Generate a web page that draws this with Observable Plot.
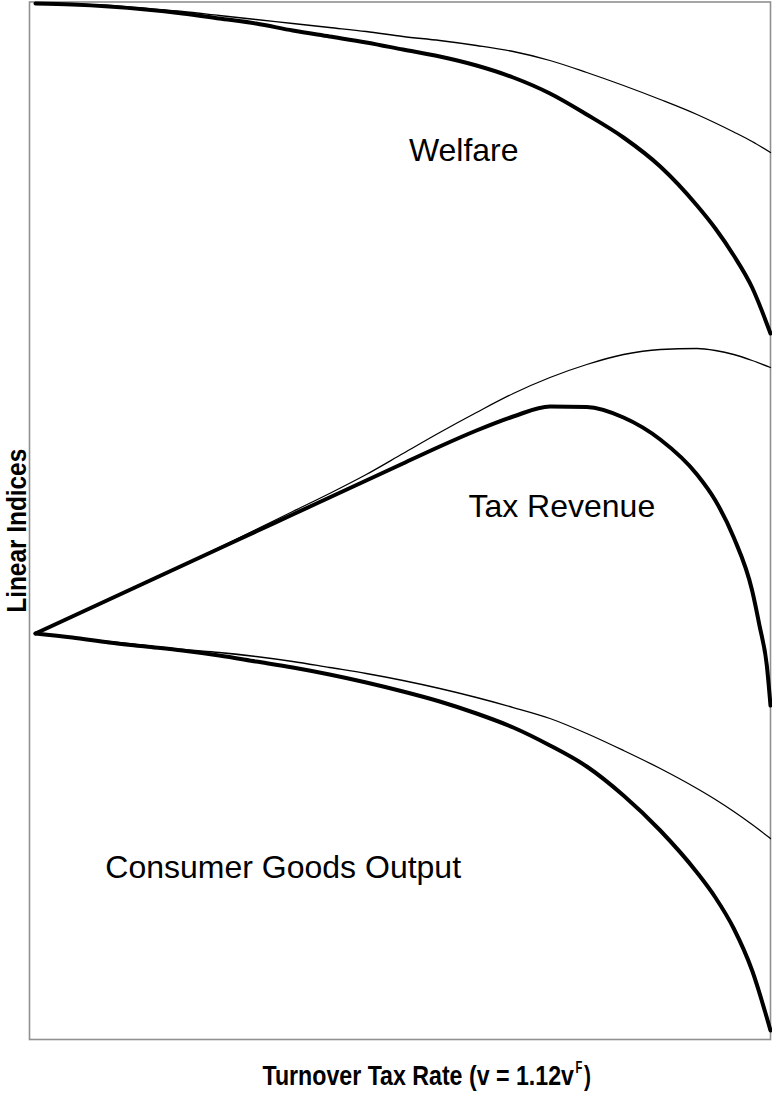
<!DOCTYPE html>
<html>
<head>
<meta charset="utf-8">
<script src="https://cdn.jsdelivr.net/npm/d3@7"></script>
<script src="https://cdn.jsdelivr.net/npm/@observablehq/plot@0.6"></script>
<style>
  html, body { margin: 0; padding: 0; background: #fff; }
  #chart { width: 772px; height: 1093px; }
</style>
</head>
<body>
<div id="chart"></div>
<script>
// Turnover tax rate (normalised 0..1, no ticks shown on the original)
const taxRate = [0, 0.05, 0.1, 0.15, 0.2, 0.25, 0.3, 0.35, 0.4, 0.45, 0.5, 0.55, 0.6, 0.65, 0.7, 0.75, 0.8, 0.85, 0.9, 0.925, 0.95, 0.975, 1];
const taxRateRevenue = [0, 0.05, 0.1, 0.15, 0.2, 0.25, 0.3, 0.35, 0.4, 0.45, 0.5, 0.55, 0.6, 0.65, 0.7, 0.75, 0.8, 0.85, 0.9, 0.925, 0.95, 0.975, 0.985, 0.995, 1];

// Linear indices (arbitrary units) – thin curves
const welfareThin  = [103.6, 103.55, 103.4, 103.1, 102.8, 102.4, 102.0, 101.6, 101.2, 100.8, 100.3, 99.9, 99.4, 98.8, 97.9, 96.7, 95.4, 94.0, 92.5, 91.65, 90.75, 89.8, 88.7];
const revenueThin  = [40.6, 42.3, 44.0, 45.7, 47.4, 49.2, 51.0, 52.8, 54.6, 56.5, 58.6, 60.7, 62.7, 64.6, 66.2, 67.5, 68.5, 69.0, 69.1, 68.9, 68.5, 67.9, 67.2];
const outputThin   = [40.6, 40.2, 39.8, 39.4, 39.0, 38.7, 38.3, 37.8, 37.2, 36.6, 35.9, 35.1, 34.2, 33.2, 32.1, 30.6, 28.9, 27.1, 25.1, 24.0, 22.8, 21.5, 20.1];

// Linear indices – thick curves
const welfareThick = [103.6, 103.5, 103.3, 103.0, 102.6, 102.1, 101.6, 100.9, 100.3, 99.7, 99.0, 98.3, 97.4, 96.2, 94.6, 92.5, 90.2, 87.3, 83.4, 81.1, 78.4, 75.2, 70.6];
const revenueThick = [40.6, 42.3, 44.0, 45.7, 47.4, 49.1, 50.8, 52.5, 54.2, 55.9, 57.6, 59.3, 60.9, 62.3, 63.3, 63.25, 62.2, 60.0, 56.5, 53.9, 50.2, 44.9, 41.4, 37.4, 33.4];
const outputThick  = [40.6, 40.2, 39.7, 39.3, 38.9, 38.4, 37.8, 37.2, 36.5, 35.7, 34.8, 33.8, 32.6, 31.2, 29.4, 27.3, 24.4, 20.9, 16.7, 14.2, 11.1, 6.9, 0.9];

const curveLabels = ["Welfare", "Tax Revenue", "Consumer Goods Output"];
const xTitleParts = ["Turnover Tax Rate (v = 1.12v", "F", ")"];
const yTitle = "Linear Indices";

function rows(xs, ys, name) { return xs.map((x, i) => ({x, y: ys[i], name})); }
const thin = [
  ...rows(taxRate, welfareThin, "welfare"),
  ...rows(taxRate, revenueThin, "revenue"),
  ...rows(taxRate, outputThin, "output")
];
const thick = [
  ...rows(taxRate, welfareThick, "welfare"),
  ...rows(taxRateRevenue, revenueThick, "revenue"),
  ...rows(taxRate, outputThick, "output")
];

const labelFont = "'Liberation Sans', Arial, sans-serif";
const titleFont = "'Liberation Sans Narrow', 'Arial Narrow', 'Liberation Sans', Arial, sans-serif";
const titleStyle = {frameAnchor: "bottom", text: d => d, lineAnchor: "bottom", textAnchor: "start", fontWeight: "bold", fontFamily: titleFont, fill: "#000"};

const chart = Plot.plot({
  width: 772,
  height: 1093,
  marginLeft: 29,
  marginRight: 2,
  marginTop: 1.5,
  marginBottom: 54,
  x: {domain: [-0.00816, 1], axis: null},
  y: {domain: [0, 103.75], axis: null},
  marks: [
    Plot.frame({stroke: "#909090", strokeWidth: 1.6}),
    Plot.line(thin, {x: "x", y: "y", z: "name", stroke: "#000", strokeWidth: 1.3, curve: "monotone-x"}),
    Plot.line(thick, {x: "x", y: "y", z: "name", stroke: "#000", strokeWidth: 4, curve: "monotone-x", strokeLinejoin: "round"}),
    Plot.text([curveLabels[0]], {x: 0.508, y: 87.9, text: d => d, textAnchor: "start", lineAnchor: "bottom", fontSize: 32, fontFamily: labelFont, fill: "#000"}),
    Plot.text([curveLabels[1]], {x: 0.589, y: 52.3, text: d => d, textAnchor: "start", lineAnchor: "bottom", fontSize: 32, fontFamily: labelFont, fill: "#000"}),
    Plot.text([curveLabels[2]], {x: 0.095, y: 16.2, text: d => d, textAnchor: "start", lineAnchor: "bottom", fontSize: 32, fontFamily: labelFont, fill: "#000"}),
    Plot.text([yTitle], {frameAnchor: "left", text: d => d, rotate: -90, dx: -4, dy: 10, textAnchor: "middle", lineAnchor: "bottom", fontSize: 28, fontWeight: "bold", fontFamily: titleFont, fill: "#000"}),
    Plot.text([xTitleParts[0]], {...titleStyle, dx: -137.5, dy: 45, fontSize: 28}),
    Plot.text([xTitleParts[1]], {...titleStyle, dx: 175.5, dy: 33, fontSize: 16}),
    Plot.text([xTitleParts[2]], {...titleStyle, dx: 184, dy: 45, fontSize: 28})
  ]
});

document.getElementById("chart").appendChild(chart);

// condensed bold titles (Arial Narrow look): squeeze horizontally along the text direction
const condensed = new Map([[xTitleParts[0], 312], [xTitleParts[1], 7], [xTitleParts[2], 7], [yTitle, 164]]);
for (const t of chart.querySelectorAll("text")) {
  const target = condensed.get(t.textContent);
  if (!target) continue;
  const box = t.getBBox();
  if (!box.width) continue;
  const s = target / box.width;
  const anchor = t.textContent === yTitle ? box.x + box.width / 2 : box.x;
  const prev = t.getAttribute("transform") || "";
  t.setAttribute("transform", `${prev} translate(${anchor},0) scale(${s},1) translate(${-anchor},0)`.trim());
}
</script>
</body>
</html>
